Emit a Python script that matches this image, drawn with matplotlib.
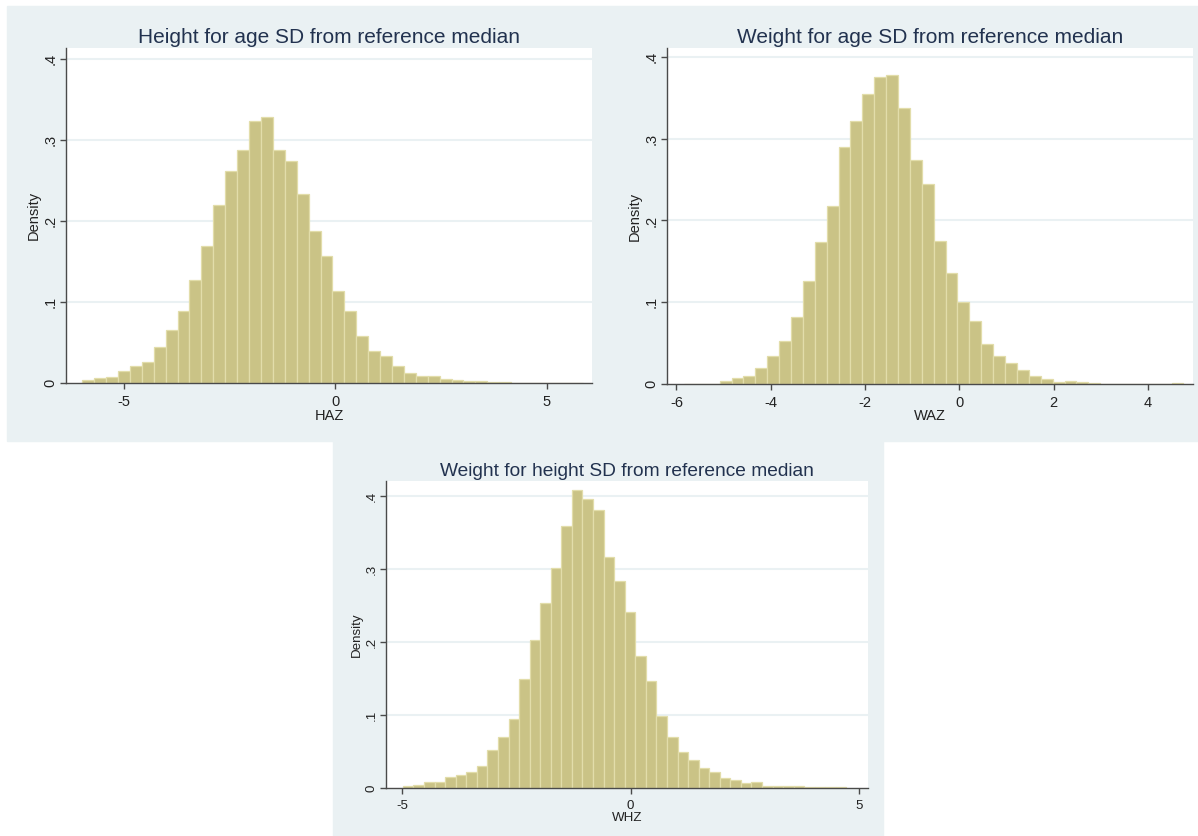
import matplotlib
matplotlib.use('Agg')
import matplotlib.pyplot as plt
from matplotlib.patches import Rectangle
import numpy as np

plt.rcParams['font.family'] = ['Liberation Sans', 'DejaVu Sans']
plt.rcParams['axes.unicode_minus'] = False

# Data (bin start, bin width, density per bin)
haz_start, haz_width = -5.985, 0.2817
haz_density = [0.0041, 0.0062, 0.0078, 0.0152, 0.0206, 0.0263, 0.0444, 0.0654, 0.0889, 0.1268,
               0.1687, 0.2189, 0.2609, 0.2877, 0.3226, 0.3280, 0.2877, 0.2737, 0.2329, 0.1880,
               0.1568, 0.1136, 0.0889, 0.0584, 0.0395, 0.0337, 0.0210, 0.0123, 0.0086, 0.0090,
               0.0053, 0.0041, 0.0020, 0.0020, 0.0010, 0.0008, 0.0006, 0.0005, 0.0005, 0.0004,
               0.0004, 0.0003]
waz_start, waz_width = -5.84, 0.2522
waz_density = [0.0005, 0.0005, 0.0005, 0.0041, 0.0069, 0.0094, 0.0192, 0.0343, 0.0531, 0.0821,
               0.1266, 0.1732, 0.2173, 0.2900, 0.3219, 0.3546, 0.3754, 0.3779, 0.3370, 0.2737,
               0.2451, 0.1744, 0.1360, 0.1005, 0.0776, 0.0490, 0.0339, 0.0257, 0.0172, 0.0094,
               0.0065, 0.0029, 0.0033, 0.0020, 0.0008, 0.0005, 0.0004, 0.0004, 0.0004, 0.0005,
               0.0003, 0.0008]
whz_start, whz_width = -4.99, 0.2314
whz_density = [0.0027, 0.0046, 0.0078, 0.0087, 0.0151, 0.0178, 0.0219, 0.0306, 0.0521, 0.0699,
               0.0950, 0.1493, 0.2023, 0.2539, 0.3014, 0.3589, 0.4078, 0.3959, 0.3808, 0.3160,
               0.2831, 0.2411, 0.1804, 0.1470, 0.0986, 0.0699, 0.0493, 0.0388, 0.0274, 0.0224,
               0.0142, 0.0105, 0.0073, 0.0078, 0.0027, 0.0034, 0.0034, 0.0034, 0.0018, 0.0018,
               0.0015, 0.0012]

titles = ['Height for age SD from reference median',
          'Weight for age SD from reference median',
          'Weight for height SD from reference median']
xlabels = ['HAZ', 'WAZ', 'WHZ']
yticks = [0, 0.1, 0.2, 0.3, 0.4]
ytick_labels = ['0', '.1', '.2', '.3', '.4']

W, H = 1198, 836
BG = '#EAF1F3'
BAR = '#CAC386'
BAR_EDGE = '#E2DDAA'
GRID = '#EAF1F3'
AXC = '#4A4A4A'
TITLE_C = '#22324F'

fig = plt.figure(figsize=(W / 100, H / 100), dpi=100)
fig.patch.set_facecolor('white')


def frac_rect(x0, y0, x1, y1):
    # pixel box (top-left origin) -> figure fraction [left, bottom, width, height]
    return [x0 / W, 1 - y1 / H, (x1 - x0) / W, (y1 - y0) / H]


# panel backgrounds
fig.add_artist(Rectangle((7 / W, 1 - 441 / H), (W - 7) / W, (441 - 6) / H,
                         transform=fig.transFigure, color=BG, zorder=0))
fig.add_artist(Rectangle((333 / W, 0), (883 - 333) / W, (H - 441) / H,
                         transform=fig.transFigure, color=BG, zorder=0))


def panel(box, start, width, dens, xlim, ylim, xticks, title, xlabel, scale, title_y, lab_pos):
    ax = fig.add_axes(frac_rect(*box))
    ax.set_facecolor('white')
    edges = start + width * np.arange(len(dens) + 1)
    for g in yticks[1:]:
        ax.axhline(g, color=GRID, lw=1.5, zorder=0)
    ax.bar(edges[:-1], dens, width=width, align='edge', color=BAR,
           edgecolor=BAR_EDGE, linewidth=0.9, zorder=2)
    ax.set_xlim(*xlim)
    ax.set_ylim(*ylim)
    for s in ['top', 'right']:
        ax.spines[s].set_visible(False)
    for s in ['left', 'bottom']:
        ax.spines[s].set_color(AXC)
        ax.spines[s].set_linewidth(1.0)
        ax.spines[s].set_zorder(3)
    fs = 10.5 * scale
    ax.set_xticks(xticks)
    ax.set_xticklabels([str(t) for t in xticks])
    ax.set_yticks(yticks)
    ax.set_yticklabels(ytick_labels, rotation=90, va='center')
    ax.tick_params(axis='both', direction='out', length=4, width=1, color=AXC,
                   labelsize=fs, labelcolor='#222222')
    ax.tick_params(axis='x', pad=5 * scale)
    ax.tick_params(axis='y', pad=2)
    ax.set_xlabel(xlabel, fontsize=fs, color='#222222', va='center')
    ax.set_ylabel('Density', fontsize=fs, color='#222222', va='center')
    x0, y0, x1, y1 = box
    ax.xaxis.set_label_coords(0.5, -(lab_pos[1] - y1) / (y1 - y0))
    ax.yaxis.set_label_coords(-(x0 - lab_pos[0]) / (x1 - x0), 0.5)
    fig.text((x0 + x1) / 2 / W, 1 - title_y / H, title, ha='center', va='baseline',
             fontsize=15 * scale, color=TITLE_C)
    return ax


panel((66, 48, 592, 383), haz_start, haz_width, haz_density, (-6.37, 6.07), (0, 0.413),
      [-5, 0, 5], titles[0], xlabels[0], 1.0, 43, (33.5, 416))
panel((667, 48, 1193, 384), waz_start, waz_width, waz_density, (-6.2, 4.955), (0, 0.411),
      [-6, -4, -2, 0, 2, 4], titles[1], xlabels[1], 1.0, 43, (634.5, 416))
panel((386, 481, 868, 788), whz_start, whz_width, whz_density, (-5.36, 5.2), (0, 0.4205),
      [-5, 0, 5], titles[2], xlabels[2], 0.92, 476, (357, 818))

fig.savefig('out.png', dpi=100)
